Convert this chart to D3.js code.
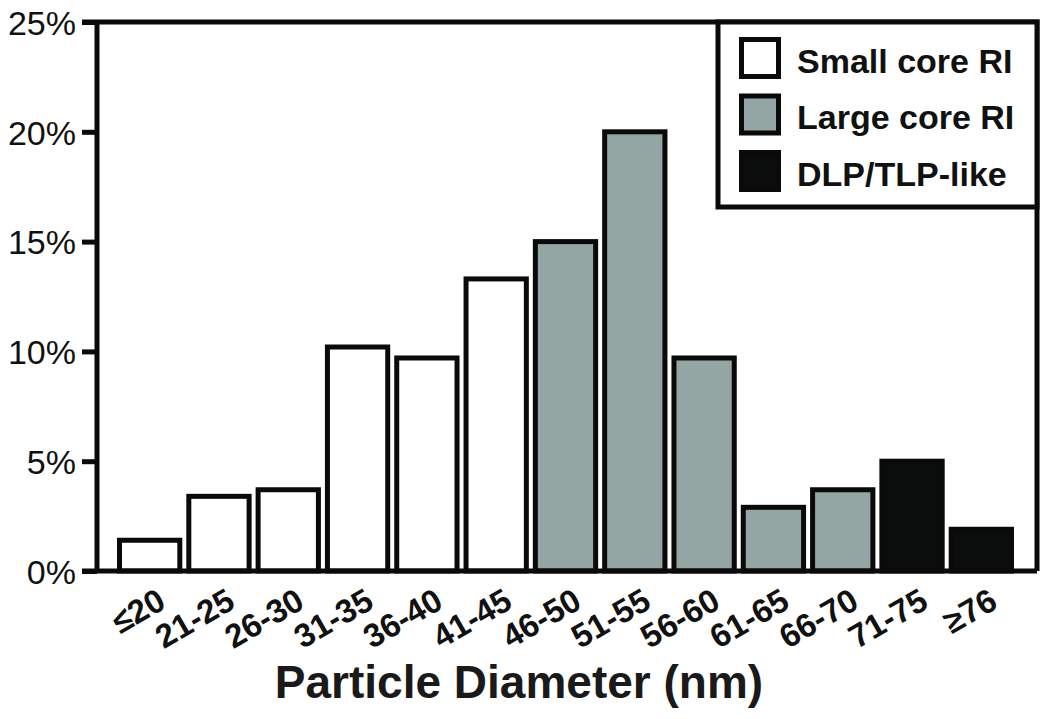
<!DOCTYPE html>
<html>
<head>
<meta charset="utf-8">
<script src="https://cdn.jsdelivr.net/npm/d3@7"></script>
<style>
  html, body { margin: 0; padding: 0; background: #fff; }
  svg { display: block; font-family: "Liberation Sans", Arial, Helvetica, sans-serif; }
</style>
</head>
<body>
<svg id="chart" width="1050" height="719"></svg>
<script>
// ---- data ----
const categories = ["≤20", "21-25", "26-30", "31-35", "36-40", "41-45", "46-50", "51-55", "56-60", "61-65", "66-70", "71-75", "≥76"];
const values = [1.4, 3.4, 3.7, 10.2, 9.7, 13.3, 15.0, 20.0, 9.7, 2.9, 3.7, 5.0, 1.9];
const groups = ["Small core RI", "Small core RI", "Small core RI", "Small core RI", "Small core RI", "Small core RI",
                "Large core RI", "Large core RI", "Large core RI", "Large core RI", "Large core RI",
                "DLP/TLP-like", "DLP/TLP-like"];
const legendLabels = ["Small core RI", "Large core RI", "DLP/TLP-like"];
const groupColors = ["#ffffff", "#93a6a3", "#0b0d0c"];
const yTicks = [0, 5, 10, 15, 20, 25];
const xTitle = "Particle Diameter (nm)";

// ---- layout ----
const svg = d3.select("#chart");
const plot = { left: 97, right: 1037, top: 22, bottom: 571 };
const ink = "#0a0a0a";

const x = d3.scaleBand().domain(categories).range([115, 1016]).paddingInner(0.13).paddingOuter(0.065);
const y = d3.scaleLinear().domain([0, 25]).range([plot.bottom, plot.top]);
const color = d3.scaleOrdinal().domain(legendLabels).range(groupColors);

const data = categories.map((c, i) => ({ cat: c, value: values[i], group: groups[i] }));

// bars
svg.append("g").selectAll("rect").data(data).join("rect")
  .attr("x", d => x(d.cat))
  .attr("y", d => y(d.value))
  .attr("width", x.bandwidth())
  .attr("height", d => y(0) - y(d.value))
  .attr("fill", d => color(d.group))
  .attr("stroke", ink)
  .attr("stroke-width", 5);

// frame (top and right)
svg.append("path")
  .attr("d", `M${plot.left - 15},${plot.top} H${plot.right} V${plot.bottom}`)
  .attr("fill", "none").attr("stroke", ink).attr("stroke-width", 5);

// y axis
const yAxis = svg.append("g").attr("transform", `translate(${plot.left},0)`)
  .call(d3.axisLeft(y).tickValues(yTicks).tickFormat(d => d + "%").tickSize(15).tickPadding(6));
yAxis.select(".domain").attr("stroke", ink).attr("stroke-width", 5).attr("d", `M0,${plot.top}V${plot.bottom}`);
yAxis.selectAll(".tick line").attr("stroke", ink).attr("stroke-width", 5);
yAxis.selectAll(".tick text").attr("font-size", 34).attr("fill", "#111").attr("dy", "0.36em")
  .style("font-family", "'Liberation Sans', Arial, sans-serif");

// x axis
const xAxis = svg.append("g").attr("transform", `translate(0,${plot.bottom})`)
  .call(d3.axisBottom(x).tickSize(0).tickPadding(0));
xAxis.select(".domain").attr("stroke", ink).attr("stroke-width", 5).attr("d", `M${plot.left - 15},0H${plot.right}`);
xAxis.selectAll(".tick text")
  .attr("font-size", 33).attr("font-weight", "bold").attr("fill", "#111")
  .attr("text-anchor", "end").attr("dy", 0).attr("y", 0)
  .attr("transform", "translate(18,36) rotate(-30)")
  .style("font-family", "'Liberation Sans', Arial, sans-serif");

// x title
svg.append("text")
  .attr("x", 519).attr("y", 698)
  .attr("text-anchor", "middle")
  .attr("font-size", 46).attr("font-weight", "bold").attr("fill", "#1a1a1a")
  .text(xTitle);

// legend
const lg = svg.append("g");
lg.append("rect").attr("x", 718).attr("y", plot.top).attr("width", plot.right - 718).attr("height", 207 - plot.top)
  .attr("fill", "#fff").attr("stroke", ink).attr("stroke-width", 5);
const items = lg.selectAll("g.item").data(legendLabels).join("g")
  .attr("transform", (d, i) => `translate(0,${58 + i * 56.5})`);
items.append("rect").attr("x", 741.5).attr("y", -18.5).attr("width", 37).attr("height", 37)
  .attr("fill", d => color(d)).attr("stroke", ink).attr("stroke-width", 5);
items.append("text").attr("x", 797).attr("y", 14.5)
  .attr("font-size", 34).attr("font-weight", "bold").attr("fill", "#111")
  .text(d => d);
</script>
</body>
</html>
